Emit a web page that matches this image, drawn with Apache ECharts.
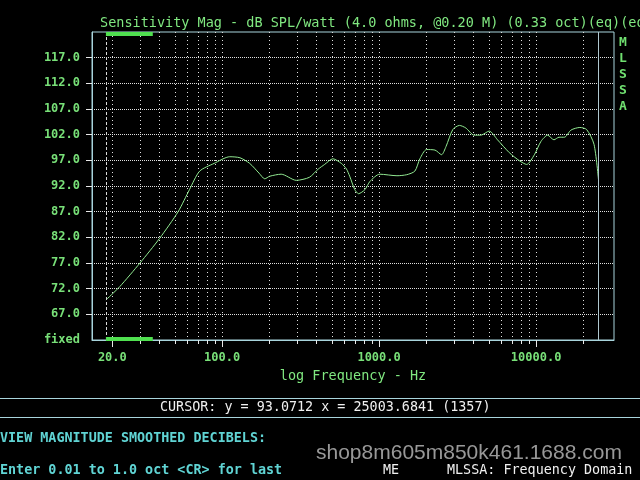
<!DOCTYPE html>
<html>
<head>
<meta charset="utf-8">
<script src="https://cdn.jsdelivr.net/npm/echarts@6/dist/echarts.min.js"></script>
<style>
html,body{margin:0;padding:0;background:#000;}
#c{width:640px;height:480px;}
</style>
</head>
<body>
<div id="c"></div>
<script>
// ---- data ----
const freqs = [18.2, 22.3, 30, 40, 52.5, 62, 72, 89, 112, 130, 150, 172, 187, 201, 238, 297, 360, 410, 450, 508, 575, 620, 650, 700, 740, 813, 875, 1010, 1300, 1500, 1690, 1820, 2005, 2270, 2500, 2670, 2950, 3250, 3570, 4030, 4450, 5030, 5680, 6750, 7850, 8710, 9760, 10750, 11850, 13000, 14000, 15150, 16700, 19000, 21000, 23400, 25003.6841];
const levels = [69.8, 72.4, 77.0, 81.8, 87.0, 91.3, 94.9, 96.4, 97.7, 97.5, 96.4, 94.5, 93.4, 93.9, 94.3, 93.1, 93.7, 95.3, 96.2, 97.3, 96.4, 95.3, 93.9, 91.3, 90.5, 91.3, 92.9, 94.3, 94.0, 94.2, 94.9, 97.3, 99.1, 99.0, 98.1, 99.7, 103.0, 103.8, 103.3, 101.9, 101.9, 102.7, 101.0, 98.5, 96.9, 96.2, 98.1, 100.7, 101.9, 101.0, 101.5, 101.5, 102.9, 103.4, 103.0, 100.1, 93.0712];
const xMajorTicks = [20, 100, 1000, 10000];
const xTickLabels = ['20.0', '100.0', '1000.0', '10000.0'];
const xGridTicks = [20, 30, 40, 50, 60, 70, 80, 90, 100, 200, 300, 400, 500, 600, 700, 800, 900, 1000, 2000, 3000, 4000, 5000, 6000, 7000, 8000, 9000, 10000, 20000];
const yTicks = [67, 72, 77, 82, 87, 92, 97, 102, 107, 112, 117];
const yLabelValues = [62, 67, 72, 77, 82, 87, 92, 97, 102, 107, 112, 117];
const yBottomLabel = 'fixed';
const xRange = [14.84, 31360];
const yRange = [62, 122];
const viewStart = 18.2, viewEnd = 36.2;
const cursorFreq = 25003.6841, cursorLevel = 93.0712, cursorIndex = 1357;

const mono = '"DejaVu Sans Mono", "Liberation Mono", monospace';
const frameColor = '#a8d4dc';
const green = '#78e078';

const chart = echarts.init(document.getElementById('c'), null, {renderer: 'canvas'});
const option = {
  backgroundColor: '#000',
  animation: false,
  title: {
    text: 'Sensitivity Mag - dB SPL/watt (4.0 ohms, @0.20 M) (0.33 oct)(eq)(eq:',
    left: 95, top: 11,
    textStyle: {color: '#80e880', fontFamily: mono, fontSize: 13.5, fontWeight: 'normal'}
  },
  grid: {left: 92, top: 32, width: 522, height: 308, show: true, borderColor: frameColor, borderWidth: 1, backgroundColor: 'transparent'},
  xAxis: [{
    type: 'log', min: xRange[0], max: xRange[1], position: 'bottom',
    axisLine: {show: true, lineStyle: {color: frameColor}},
    axisTick: {show: true, length: 7, customValues: xMajorTicks, lineStyle: {color: '#e8e8e8'}},
    axisLabel: {show: true, customValues: xMajorTicks, margin: 12, color: green, fontFamily: mono, fontSize: 12, fontWeight: 'bold',
      formatter: v => { const i = xMajorTicks.indexOf(Math.round(v)); return i >= 0 ? xTickLabels[i] : ''; }},
    splitLine: {show: false},
    name: 'log Frequency - Hz', nameLocation: 'middle', nameGap: 29,
    nameTextStyle: {color: '#80e880', fontFamily: mono, fontSize: 13.5}
  }, {
    type: 'log', min: xRange[0], max: xRange[1], position: 'bottom',
    axisLine: {show: false},
    axisTick: {show: true, length: 4, customValues: xGridTicks, lineStyle: {color: '#e8e8e8'}},
    axisLabel: {show: false},
    splitLine: {show: true, lineStyle: {color: '#e0e0e0', width: 1, type: [1, 3]}}
  }],
  yAxis: {
    type: 'value', min: yRange[0], max: yRange[1],
    axisLine: {show: true, lineStyle: {color: frameColor}},
    axisTick: {show: true, length: 6, customValues: yTicks, lineStyle: {color: '#e8e8e8'}},
    axisLabel: {show: true, customValues: yLabelValues, margin: 12, color: green, fontFamily: mono, fontSize: 12, fontWeight: 'bold',
      formatter: v => v === yRange[0] ? yBottomLabel : v.toFixed(1)},
    splitLine: {show: true, lineStyle: {color: '#e0e0e0', width: 1, type: [1, 1]}}
  },
  series: [{
    type: 'line', xAxisIndex: 0,
    data: freqs.map((f, i) => [f, levels[i]]),
    showSymbol: false, smooth: 0.25,
    lineStyle: {color: '#92ea92', width: 1},
    markLine: {
      silent: true, symbol: 'none', label: {show: false}, animation: false,
      data: [
        {xAxis: viewStart, lineStyle: {color: '#d8d8d8', type: [3, 2], width: 1}},
        {xAxis: cursorFreq, lineStyle: {color: '#b0c8d0', type: 'solid', width: 1}},
        [{coord: [viewStart, yRange[1] - 0.35], lineStyle: {color: '#50e050', width: 4, type: 'solid'}}, {coord: [viewEnd, yRange[1] - 0.35]}],
        [{coord: [viewStart, yRange[0] + 0.25], lineStyle: {color: '#50e050', width: 4, type: 'solid'}}, {coord: [viewEnd, yRange[0] + 0.25]}]
      ]
    }
  }],
  graphic: [
    {type: 'text', left: 619, top: 35, style: {text: 'M\nL\nS\nS\nA', fill: '#70e070', font: 'bold 13px ' + mono, lineHeight: 16}},
    {type: 'line', shape: {x1: 0, y1: 398.5, x2: 640, y2: 398.5}, style: {stroke: frameColor, lineWidth: 1}},
    {type: 'line', shape: {x1: 0, y1: 417.5, x2: 640, y2: 417.5}, style: {stroke: frameColor, lineWidth: 1}},
    {type: 'text', left: 160, top: 401, style: {text: 'CURSOR: y = ' + cursorLevel.toFixed(4) + ' x = ' + cursorFreq.toFixed(4) + ' (' + cursorIndex + ')', fill: '#f0f0f0', font: '13.4px ' + mono}},
    {type: 'text', left: 0, top: 432, style: {text: 'VIEW MAGNITUDE SMOOTHED DECIBELS:', fill: '#60d4d4', font: 'bold 13.4px ' + mono}},
    {type: 'text', left: 0, top: 464, style: {text: 'Enter 0.01 to 1.0 oct <CR> for last', fill: '#60d4d4', font: 'bold 13.4px ' + mono}},
    {type: 'text', left: 383, top: 464, style: {text: 'ME', fill: '#f0f0f0', font: '13.4px ' + mono}},
    {type: 'text', left: 447, top: 464, style: {text: 'MLSSA: Frequency Domain', fill: '#f0f0f0', font: '13.4px ' + mono}},
    {type: 'text', left: 316, top: 443, style: {text: 'shop8m605m850k461.1688.com', fill: 'rgba(190,190,190,0.8)', font: '21px "Liberation Sans", Arial, sans-serif'}}
  ]
};
chart.setOption(option);
</script>
</body>
</html>
